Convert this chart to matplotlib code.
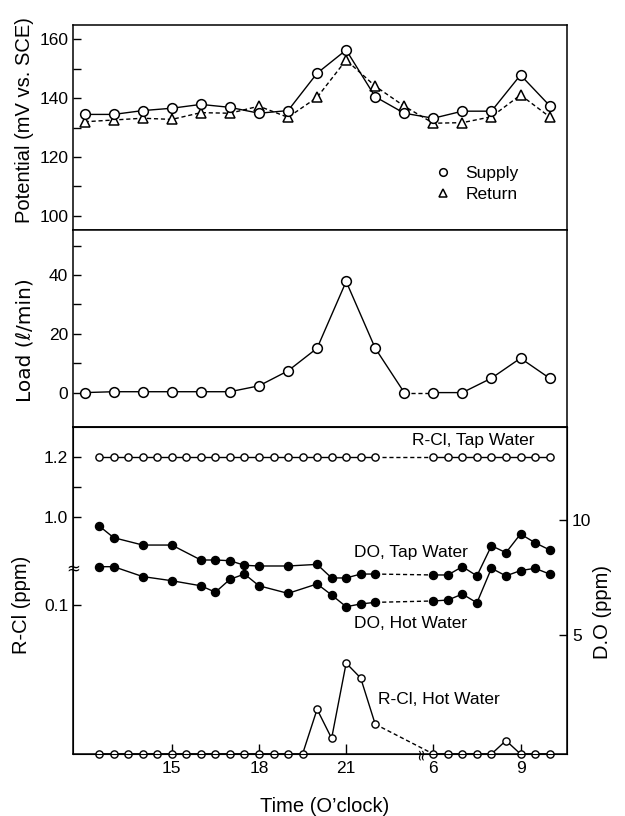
import numpy as np
import matplotlib
matplotlib.use("Agg")
import matplotlib.pyplot as plt
from matplotlib.lines import Line2D

plt.rcParams['font.family'] = ['Liberation Sans Narrow', 'Liberation Sans', 'DejaVu Sans']

# ---------------- data ----------------
# hourly readings: 12..23 h on day 1, then 6..10 h next morning
hours_hourly = [12, 13, 14, 15, 16, 17, 18, 19, 20, 21, 22, 23, 6, 7, 8, 9, 10]
potential_supply = [134.5, 134.5, 135.8, 136.6, 137.9, 136.9, 134.9, 135.8, 148.5,
                    156.4, 140.5, 134.9, 133.2, 135.6, 135.6, 147.9, 137.5]
potential_return = [132.0, 132.6, 133.2, 132.8, 135.1, 134.9, 137.3, 133.5, 140.3,
                    153.0, 144.1, 137.3, 131.5, 131.7, 133.7, 141.1, 133.7]
load = [0.0, 0.3, 0.3, 0.3, 0.3, 0.3, 2.3, 7.4, 15.1, 37.8, 15.1, 0.0,
        0.0, 0.0, 4.9, 11.7, 4.9]

# half-hourly residual chlorine readings
hours_rcl = [12.5, 13, 13.5, 14, 14.5, 15, 15.5, 16, 16.5, 17, 17.5, 18, 18.5, 19,
             19.5, 20, 20.5, 21, 21.5, 22, 6, 6.5, 7, 7.5, 8, 8.5, 9, 9.5, 10]
rcl_tap = [1.2, 1.2, 1.2, 1.2, 1.2, 1.2, 1.2, 1.2, 1.2, 1.2, 1.2, 1.2, 1.2, 1.2,
           1.2, 1.2, 1.2, 1.2, 1.2, 1.2, 1.2, 1.2, 1.2, 1.2, 1.2, 1.2, 1.2, 1.2, 1.2]
rcl_hot = [0, 0, 0, 0, 0, 0, 0, 0, 0, 0, 0, 0, 0, 0, 0, 0.030, 0.0105, 0.061,
           0.051, 0.020, 0, 0, 0, 0, 0, 0.009, 0, 0, 0]

# dissolved oxygen readings
hours_do = [12.5, 13, 14, 15, 16, 16.5, 17, 17.5, 18, 19, 20, 20.5, 21, 21.5, 22,
            6, 6.5, 7, 7.5, 8, 8.5, 9, 9.5, 10]
do_tap = [9.74, 9.23, 8.91, 8.91, 8.26, 8.26, 8.23, 8.03, 8.0, 8.0, 8.07, 7.48,
          7.48, 7.65, 7.65, 7.61, 7.61, 7.97, 7.57, 8.88, 8.58, 9.39, 9.01, 8.70]
do_hot = [7.97, 7.97, 7.54, 7.36, 7.14, 6.86, 7.42, 7.65, 7.14, 6.81, 7.22, 6.74,
          6.23, 6.35, 6.42, 6.48, 6.52, 6.78, 6.40, 7.90, 7.57, 7.80, 7.90, 7.65]

tick_hours = [15, 18, 21, 6, 9]
tick_labels = ['15', '18', '21', '6', '9']


def axpos(h):
    """Time axis with the night (0-6 h) cut out: next-morning hours follow 24."""
    h = np.asarray(h, dtype=float)
    return np.where(h < 12, h + 18, h)


def split(hours, values):
    """Split a series into day part, night gap, and morning part."""
    x = axpos(hours)
    v = np.asarray(values, dtype=float)
    i = int(np.argmax(np.asarray(hours) < 12))
    return (x[:i], v[:i]), (x[i - 1:i + 1], v[i - 1:i + 1]), (x[i:], v[i:])


# ---------------- figure ----------------
fig = plt.figure(figsize=(6.25, 8.16), dpi=100)
L, W = 73 / 625, (567 - 73) / 625
ax1 = fig.add_axes([L, 1 - 230 / 816, W, 205 / 816])
ax2 = fig.add_axes([L, 1 - 427 / 816, W, 197 / 816], sharex=ax1)
ax3 = fig.add_axes([L, 1 - 754 / 816, W, 327 / 816], sharex=ax1)

lw = 1.0
tick_fs = 12.5
lab_fs = 14.5

for ax in (ax1, ax2, ax3):
    ax.tick_params(direction='in', length=6, width=1, labelsize=tick_fs, which='both')
    for s in ax.spines.values():
        s.set_linewidth(1.1)

ax1.set_xlim(11.6, 28.6)

# ---- panel 1: potential ----
ax1.plot(axpos(hours_hourly), potential_supply, '-', color='black', lw=lw,
         marker='o', ms=7, mfc='white', mec='black', mew=1.1, zorder=3)
ax1.plot(axpos(hours_hourly), potential_return, '--', color='black', lw=lw,
         marker='^', ms=7.5, mfc='white', mec='black', mew=1.1, zorder=2,
         dashes=(3, 2))
ax1.set_ylim(95.2, 164.9)
ax1.set_yticks([100, 120, 140, 160])
ax1.set_yticks([110, 130, 150], minor=True)
ax1.tick_params(axis='x', bottom=False, labelbottom=False)
h_sup = Line2D([], [], ls='none', marker='o', ms=5.5, mfc='white', mec='black', mew=1.1)
h_ret = Line2D([], [], ls='none', marker='^', ms=6, mfc='white', mec='black', mew=1.1)
ax1.legend([h_sup, h_ret], ['Supply', 'Return'], frameon=False, loc='lower left',
           bbox_to_anchor=(0.70, 0.06), fontsize=12.5, handlelength=1.0,
           handletextpad=0.8, labelspacing=0.35)

# ---- panel 2: load ----
(xa, ya), (xg, yg), (xb, yb) = split(hours_hourly, load)
for xs, ys in ((xa, ya), (xb, yb)):
    ax2.plot(xs, ys, '-', color='black', lw=lw, marker='o', ms=7, mfc='white',
             mec='black', mew=1.1, zorder=3)
ax2.plot(xg, yg, '--', color='black', lw=lw, dashes=(3, 2), zorder=2)
ax2.set_ylim(-11.7, 55.3)
ax2.set_yticks([0, 20, 40])
ax2.set_yticks([10, 30, 50], minor=True)
ax2.tick_params(axis='x', bottom=False, labelbottom=False)

# ---- panel 3: residual chlorine (broken left scale) and DO (right) ----
rcl_knots = [-10.0, 0.0, 0.1, 1.0, 10.0]
px_knots = [-14900.0, 0.0, 149.0, 237.3, 237.3 + 9 * 297.0]


def fwd(v):
    return np.interp(v, rcl_knots, px_knots)


def inv(p):
    return np.interp(p, px_knots, rcl_knots)


ax3.set_yscale('function', functions=(fwd, inv))
ax3.set_ylim(0.0, 1.302)
ax3.set_yticks([0.1, 1.0, 1.2])
ax3.set_yticklabels(['0.1', '1.0', '1.2'])
ax3.set_yticks([1.1], minor=True)
ax3.yaxis.set_minor_formatter(matplotlib.ticker.NullFormatter())

mk_small = dict(marker='o', ms=5.2, mfc='white', mec='black', mew=1.0)
for series, z in ((rcl_tap, 3), (rcl_hot, 3)):
    (xa, ya), (xg, yg), (xb, yb) = split(hours_rcl, series)
    for xs, ys in ((xa, ya), (xb, yb)):
        ax3.plot(xs, ys, '-', color='black', lw=lw, zorder=z, clip_on=False, **mk_small)
    ax3.plot(xg, yg, '--', color='black', lw=lw, dashes=(3, 2), zorder=2)

ax3.set_xticks(axpos(tick_hours))
ax3.set_xticklabels(tick_labels)
ax3.tick_params(axis='x', length=7, pad=5)

ax3r = ax3.twinx()
ax3r.set_ylim(-0.17, 14.04)
ax3r.set_yticks([5, 10])
ax3r.tick_params(direction='in', length=6, width=1, labelsize=tick_fs)
mk_fill = dict(marker='o', ms=5.8, mfc='black', mec='black')
for series in (do_tap, do_hot):
    (xa, ya), (xg, yg), (xb, yb) = split(hours_do, series)
    for xs, ys in ((xa, ya), (xb, yb)):
        ax3r.plot(xs, ys, '-', color='black', lw=lw, **mk_fill)
    ax3r.plot(xg, yg, '--', color='black', lw=lw, dashes=(3, 2))

# curve annotations
ann_fs = 12.5
fig.text(534 / 625, 1 - 441 / 816, 'R-Cl, Tap Water', ha='right', va='center', fontsize=ann_fs)
fig.text(411 / 625, 1 - 552 / 816, 'DO, Tap Water', ha='center', va='center', fontsize=ann_fs)
fig.text(411 / 625, 1 - 623 / 816, 'DO, Hot Water', ha='center', va='center', fontsize=ann_fs)
fig.text(378 / 625, 1 - 700 / 816, 'R-Cl, Hot Water', ha='left', va='center', fontsize=ann_fs)

# axis-break marks
ax3.text(0, 1 - (568 - 427) / 327, '≈', transform=ax3.transAxes, ha='center',
         va='center', fontsize=12, family='DejaVu Sans')
ax3.text(23.55, 0, '≈', transform=ax3.get_xaxis_transform(), ha='center',
         va='center', fontsize=11, rotation=90, family='DejaVu Sans')

# axis labels
fig.text(25 / 625, 1 - 120 / 816, 'Potential (mV vs. SCE)', rotation=90, ha='center',
         va='center', fontsize=lab_fs)
fig.text(25 / 625, 1 - 340 / 816, 'Load (ℓ/min)', rotation=90, ha='center',
         va='center', fontsize=lab_fs, family=['Liberation Sans Narrow', 'DejaVu Sans'])
fig.text(22 / 625, 1 - 605 / 816, 'R-Cl (ppm)', rotation=90, ha='center',
         va='center', fontsize=lab_fs)
fig.text(602 / 625, 1 - 612 / 816, 'D.O (ppm)', rotation=90, ha='center',
         va='center', fontsize=lab_fs)
fig.text(325 / 625, 1 - 806 / 816, 'Time (O\u2019clock)', ha='center', va='center',
         fontsize=lab_fs)

fig.savefig('out.png', dpi=100)
